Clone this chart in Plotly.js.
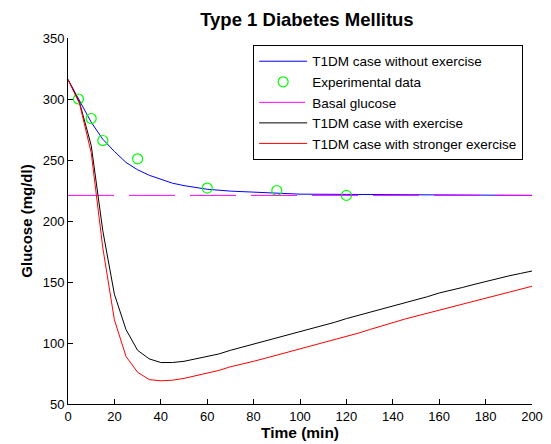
<!DOCTYPE html>
<html>
<head>
<meta charset="utf-8">
<script src="https://cdn.plot.ly/plotly-3.0.1.min.js"></script>
<style>html,body{margin:0;padding:0;background:#fff;}#chart{width:551px;height:444px;}</style>
</head>
<body>
<div id="chart"></div>
<script>
// Time grid (min)
var timeExercise = [0,5,10,15,20,25,30,35,40,45,50,55,60,65,70,75,80,85,90,95,100,105,110,115,120,125,130,135,140,145,150,155,160,165,170,175,180,185,190,195,200];
// T1DM with exercise (black)
var glucoseExercise = [316,297,262,192,140,111,94,87,84,84,85,87,89,91,94,96.5,99,101.5,104,106.5,109,112,114.5,117,120,122.5,125,128,130,133,135.5,138,141,143,145.5,148,150.5,152.5,155,157,159];
// T1DM with stronger exercise (red)
var glucoseStrong = [316,296,256,178,119,89,76,70,69,69.5,71,73,75,77.5,80.5,82.5,85,87.5,90,93,95.5,98,100.5,103,105.5,108,111,114,117,119.5,122,124.5,127,129,132,134.5,137,139.5,142,144,146.5];
// T1DM without exercise (blue)
var timeNoExercise = [0,5,10,15,20,25,30,35,40,45,50,55,60,70,80,90,100,120,140,160,180,200];
var glucoseNoExercise = [316,298,281,267,257,248,242,237.5,234,231,229,227.5,226,224.5,223.5,222.5,222,221.8,221.5,221.2,221,221];
// Experimental data (green circles)
var timeExp = [4.5,10,15,30,60,90,120];
var glucoseExp = [300,284,266,251,227,225,221];
// Basal glucose
var basalTime = [0,200];
var basalGlucose = [221,221];

var fam = 'Liberation Sans, Arial, sans-serif';

var traces = [
  {x: timeNoExercise, y: glucoseNoExercise, mode: 'lines', name: 'T1DM case without exercise', line: {color: '#0000ff', width: 1}},
  {x: timeExp, y: glucoseExp, mode: 'markers', name: 'Experimental data', marker: {symbol: 'circle-open', size: 10, color: '#00ff00', line: {width: 1.2, color: '#00ff00'}}},
  {x: basalTime, y: basalGlucose, mode: 'lines', name: 'Basal glucose', line: {color: '#ff00ff', width: 1, dash: '46px,15px'}},
  {x: timeExercise, y: glucoseExercise, mode: 'lines', name: 'T1DM case with exercise', line: {color: '#000000', width: 1}},
  {x: timeExercise, y: glucoseStrong, mode: 'lines', name: 'T1DM case with stronger exercise', line: {color: '#ff0000', width: 1}}
];

var layout = {
  width: 551, height: 444,
  margin: {l: 68, r: 19, t: 38, b: 40},
  paper_bgcolor: '#fff', plot_bgcolor: '#fff',
  font: {family: fam, size: 13, color: '#000'},
  showlegend: true,
  title: {text: 'Type 1 Diabetes Mellitus', font: {family: fam, size: 18.5, weight: 'bold', color: '#000'}, x: 0.557, xanchor: 'center', y: 0.955, yanchor: 'middle'},
  xaxis: {
    range: [0, 200], tickmode: 'array', tickvals: [0,20,40,60,80,100,120,140,160,180,200],
    ticks: 'inside', ticklen: 5, tickcolor: '#000', showgrid: false, zeroline: false,
    showline: true, linecolor: '#000', linewidth: 1, mirror: false,
    tickfont: {family: fam, size: 13, color: '#000'},
    title: {text: 'Time (min)', font: {family: fam, size: 15.5, weight: 'bold', color: '#000'}, standoff: 2}
  },
  yaxis: {
    range: [50, 350], tickmode: 'array', tickvals: [50,100,150,200,250,300,350],
    ticks: 'inside', ticklen: 5, tickcolor: '#000', showgrid: false, zeroline: false,
    showline: true, linecolor: '#000', linewidth: 1, mirror: false,
    tickfont: {family: fam, size: 13, color: '#000'},
    title: {text: 'Glucose (mg/dl)', font: {family: fam, size: 15, weight: 'bold', color: '#000'}, standoff: 6}
  },
  legend: {
    x: 0.399, y: 0.981, xanchor: 'left', yanchor: 'top',
    bgcolor: '#fff', bordercolor: '#000', borderwidth: 1,
    font: {family: fam, size: 13.5, color: '#000'},
    itemwidth: 48, tracegroupgap: 0
  }
};

Plotly.newPlot('chart', traces, layout, {staticPlot: true, displayModeBar: false});
</script>
</body>
</html>
